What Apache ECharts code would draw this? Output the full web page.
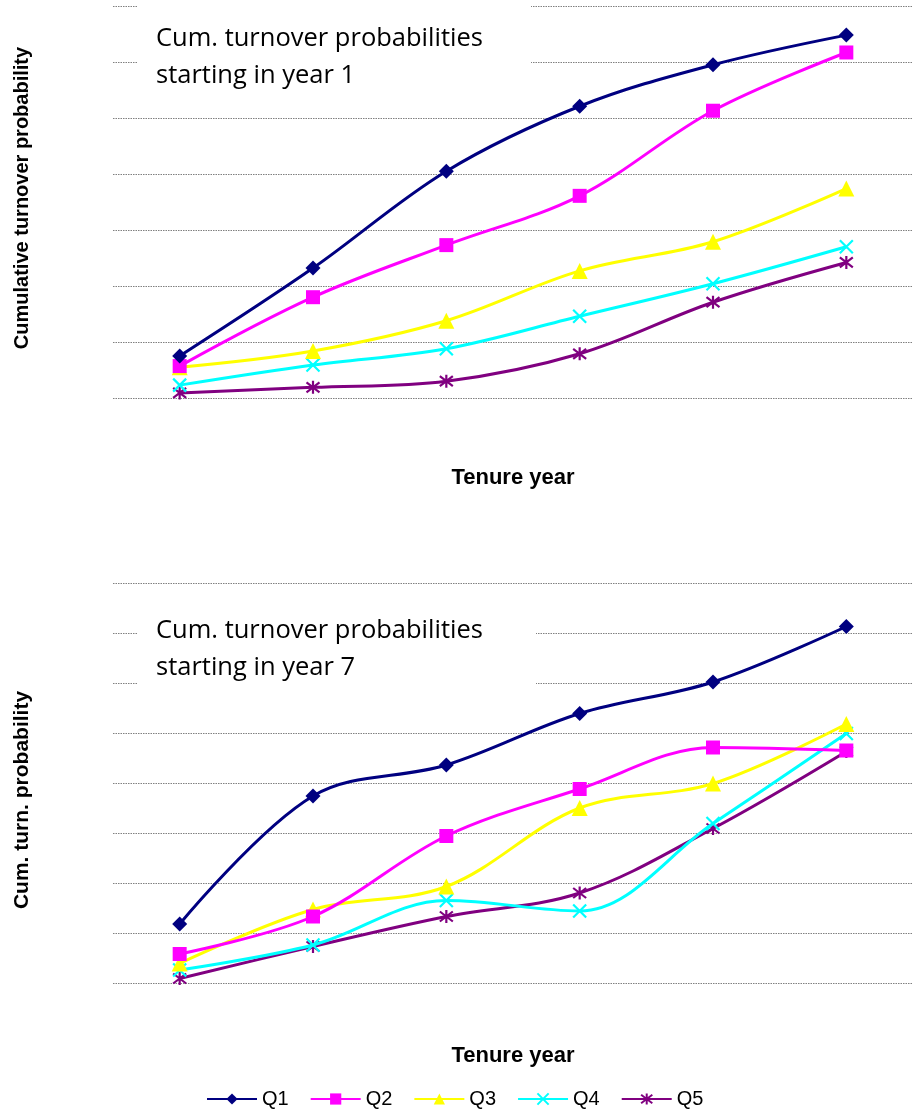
<!DOCTYPE html>
<html>
<head>
<meta charset="utf-8">
<script src="https://cdn.jsdelivr.net/npm/echarts@6/dist/echarts.min.js"></script>
<style>
  html, body { margin: 0; padding: 0; background: #fff; }
  #chart { width: 913px; height: 1109px; }
</style>
</head>
<body>
<div id="chart"></div>
<script>
// Tenure years on the x axis (labels are not printed on the chart)
const tenureYears = ['1', '2', '3', '4', '5', '6'];
const seriesNames = ['Q1', 'Q2', 'Q3', 'Q4', 'Q5'];

// Cumulative turnover probabilities, cohort starting in year 1
const start1Q1 = [0.075, 0.232, 0.405, 0.521, 0.595, 0.648];
const start1Q2 = [0.057, 0.180, 0.273, 0.361, 0.513, 0.617];
const start1Q3 = [0.055, 0.084, 0.138, 0.227, 0.279, 0.374];
const start1Q4 = [0.023, 0.059, 0.088, 0.146, 0.204, 0.270];
const start1Q5 = [0.009, 0.019, 0.030, 0.079, 0.171, 0.242];

// Cumulative turnover probabilities, cohort starting in year 7
const start7Q1 = [0.118, 0.374, 0.436, 0.539, 0.602, 0.713];
const start7Q2 = [0.058, 0.133, 0.294, 0.388, 0.471, 0.465];
const start7Q3 = [0.039, 0.147, 0.193, 0.350, 0.399, 0.518];
const start7Q4 = [0.026, 0.076, 0.165, 0.144, 0.319, 0.499];
const start7Q5 = [0.009, 0.073, 0.133, 0.180, 0.309, 0.463];

const colors = ['#000080', '#FF00FF', '#FFFF00', '#00FFFF', '#800080'];
const symbols = [
  'diamond',
  'rect',
  'triangle',
  'path://M0,0L10,10M10,0L0,10',
  'path://M0,0L10,10M10,0L0,10M5,-1.5L5,11.5'
];
const symbolSizes = [15, 14, 16, 13, 13];

const chart = echarts.init(document.getElementById('chart'), null, { renderer: 'canvas' });

function makeSeries(gridIdx, dataSets) {
  return dataSets.map((d, i) => ({
    name: seriesNames[i],
    type: 'line',
    xAxisIndex: gridIdx,
    yAxisIndex: gridIdx,
    data: d,
    smooth: 0.35,
    symbol: symbols[i],
    symbolSize: symbolSizes[i],
    showAllSymbol: true,
    lineStyle: { color: colors[i], width: 3 },
    itemStyle: {
      color: colors[i],
      borderColor: colors[i],
      borderWidth: i >= 3 ? 2.2 : 0
    },
    emphasis: { disabled: true },
    z: 3 + (4 - i)
  }));
}

const gridLine = { show: true, lineStyle: { color: '#808080', type: [1.5, 1], width: 1 } };

function xAxisDef(gridIdx, gap) {
  return {
    type: 'category',
    gridIndex: gridIdx,
    data: tenureYears,
    boundaryGap: true,
    axisLine: { show: false },
    axisTick: { show: false },
    axisLabel: { show: false },
    name: 'Tenure year',
    nameLocation: 'middle',
    nameGap: gap,
    nameTextStyle: { fontFamily: 'Liberation Sans, Arial, sans-serif', fontWeight: 'bold', fontSize: 22, color: '#000' }
  };
}

function yAxisDef(gridIdx, max) {
  return {
    type: 'value',
    gridIndex: gridIdx,
    min: 0,
    max: max,
    interval: 0.1,
    axisLine: { show: false },
    axisTick: { show: false },
    axisLabel: { show: false },
    splitLine: gridLine
  };
}

function titleLine(text, x, y) {
  return {
    type: 'text',
    x: x, y: y,
    z: 100,
    style: {
      text: text,
      font: '25.5px "Open Sans", sans-serif',
      fill: '#000',
      textAlign: 'left',
      textVerticalAlign: 'middle'
    }
  };
}

function yTitle(text, cy, size) {
  return {
    type: 'text',
    x: 22, y: cy,
    rotation: Math.PI / 2,
    z: 100,
    style: {
      text: text,
      font: 'bold ' + size + 'px "Liberation Sans", Arial, sans-serif',
      fill: '#000',
      textAlign: 'center',
      textVerticalAlign: 'middle'
    }
  };
}

chart.setOption({
  animation: false,
  backgroundColor: '#fff',
  grid: [
    { left: 113, top: 6, width: 801, height: 392 },
    { left: 113, top: 583, width: 812, height: 400 }
  ],
  xAxis: [xAxisDef(0, 69), xAxisDef(1, 62)],
  yAxis: [yAxisDef(0, 0.7), yAxisDef(1, 0.8)],
  legend: {
    data: seriesNames,
    left: 206,
    top: 1089,
    padding: 0,
    itemWidth: 50,
    itemHeight: 14,
    itemGap: 21,
    textStyle: { fontFamily: 'Liberation Sans, Arial, sans-serif', fontSize: 20, color: '#000' }
  },
  graphic: [
    { type: 'rect', z: 90, shape: { x: 137, y: 0, width: 394, height: 100 }, style: { fill: '#fff' } },
    titleLine('Cum. turnover probabilities', 156, 39),
    titleLine('starting in year 1', 156, 76),
    { type: 'rect', z: 90, shape: { x: 137, y: 600, width: 399, height: 100 }, style: { fill: '#fff' } },
    titleLine('Cum. turnover probabilities', 156, 631),
    titleLine('starting in year 7', 156, 668),
    yTitle('Cumulative turnover probability', 198, 20),
    yTitle('Cum. turn. probability', 800, 21)
  ],
  series: makeSeries(0, [start1Q1, start1Q2, start1Q3, start1Q4, start1Q5])
    .concat(makeSeries(1, [start7Q1, start7Q2, start7Q3, start7Q4, start7Q5]))
});
</script>
</body>
</html>
